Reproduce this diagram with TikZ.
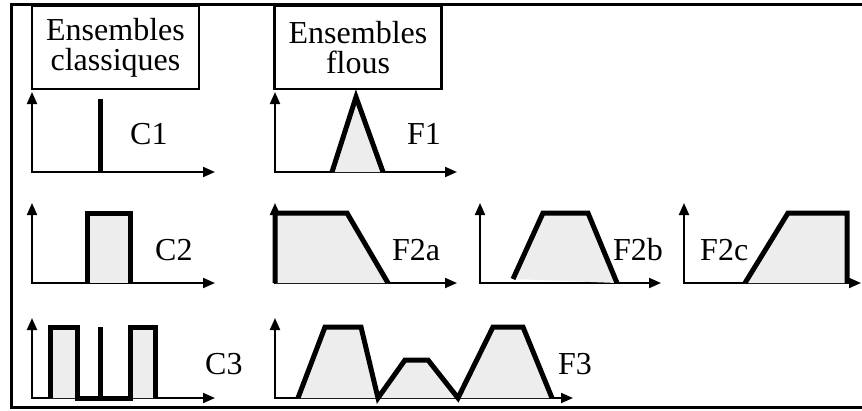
\documentclass[tikz,border=0pt]{standalone}
\usepackage{fontspec}
\setmainfont{Liberation Serif}
\usetikzlibrary{arrows.meta}
\definecolor{SetGray}{RGB}{237,237,237}

\begin{document}
\begin{tikzpicture}[
    x=1pt,
    y=-1pt,
    font=\fontsize{32}{30}\selectfont,
    frame/.style={
        line width=3pt
    },
    titlebox/.style={
        draw,
        line width=2.5pt,
        minimum width=167pt,
        minimum height=83pt,
        inner sep=0pt,
        align=center
    },
    axis/.style={
        line width=2pt,
        {Triangle[length=12pt,width=10pt]}-{Triangle[length=12pt,width=10pt]}
    },
    memb/.style={
        line width=5pt,
        fill=SetGray
    },
    lbl/.style={
        anchor=base west,
        inner sep=0pt
    }
]

\useasboundingbox (0,0) rectangle (862,410);

% outer frame, open on the right
\draw[frame] (862,4.5) -- (11.5,4.5) -- (11.5,407.5) -- (862,407.5);

\node[titlebox] (classic) at (115.5,47.5) {Ensembles\\classiques};
\node[titlebox] (fuzzy) at (358,47.5) {Ensembles\\flous};

% axes: origin x / origin y / end of x axis
\foreach \ox/\oy/\ex in {32/172/215, 275/172/457,
                         32/283/215, 275/283/457, 480/283/661, 684/283/861,
                         32/398/215, 275/398/573}
    \draw[axis] (\ox,\oy-80) -- (\ox,\oy) -- (\ex,\oy);

% classical sets
\draw[memb] (100,172) -- (100,99);
\draw[memb] (87,283) -- (87,213) -- (130,213) -- (130,283);
\draw[memb] (50,398) -- (50,327) -- (77,327) -- (77,398) -- (130,398)
    -- (130,327) -- (155,327) -- (155,398);
\draw[memb] (100,398) -- (100,327);

% fuzzy sets
\draw[memb] (332,172) -- (356,97) -- (383,172);
\draw[memb] (275,283) -- (275,213) -- (347,213) -- (388,283);
\draw[memb] (513,279) -- (543,213) -- (588,213) -- (617,283);
\draw[memb] (745,283) -- (788,213) -- (847,213) -- (847,283);
\draw[memb] (298,398) -- (325,327) -- (361,327) -- (378,398) -- (405,360)
    -- (428,360) -- (458,398) -- (493,327) -- (523,327) -- (552,398);

% labels
\node[lbl] (c1) at (130,144) {C1};
\node[lbl] (f1) at (407,144) {F1};
\node[lbl] (c2) at (155,260) {C2};
\node[lbl] (f2a) at (392,260) {F2a};
\node[lbl] (f2b) at (613,260) {F2b};
\node[lbl] (f2c) at (700,260) {F2c};
\node[lbl] (c3) at (205,374) {C3};
\node[lbl] (f3) at (558,374) {F3};

\end{tikzpicture}
\end{document}
